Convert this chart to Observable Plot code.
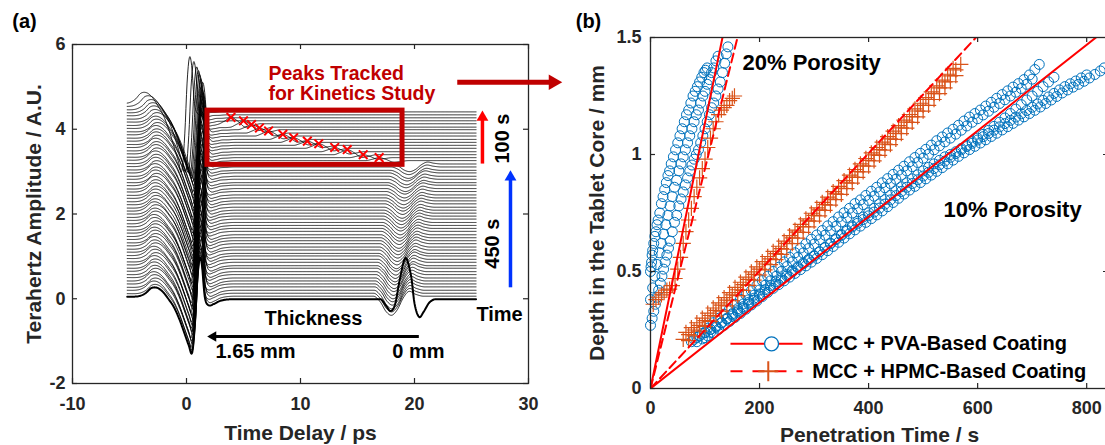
<!DOCTYPE html>
<html><head><meta charset="utf-8">
<script src="https://cdn.jsdelivr.net/npm/d3@7"></script>
<script src="https://cdn.jsdelivr.net/npm/@observablehq/plot@0.6"></script>
<style>
html,body{margin:0;padding:0;background:#fff;overflow:hidden;}
#wrap{position:relative;width:1105px;height:445px;overflow:hidden;background:#fff;}
#pa{position:absolute;left:0;top:0;width:600px;height:445px;}
#pb{position:absolute;left:560px;top:0;width:560px;height:445px;}
svg{max-width:none !important;}
</style></head>
<body><div id="wrap"><div id="pa"></div><div id="pb"></div></div>
<script>
// ================= Panel (a) data =================
const xTicksA = [-10, 0, 10, 20, 30];
const yTicksA = [-2, 0, 2, 4, 6];
const traceStart = -5.2, traceEnd = 25.4;
// baseline of each THz trace, bottom (t = 0) to top (latest)
const traceBaseline = [0.05,0.12,0.20,0.27,0.35,0.42,0.50,0.57,0.65,0.72,0.80,0.87,0.95,1.02,1.10,1.17,1.25,1.32,1.40,1.47,
  1.55,1.62,1.70,1.77,1.85,1.92,2.00,2.07,2.14,2.22,2.29,2.37,2.44,2.52,2.59,2.67,2.74,2.82,2.89,2.97,
  3.04,3.12,3.19,3.27,3.34,3.42,3.49,3.57,3.64,3.72,3.79,3.87,3.94,4.02,4.09,4.17,4.24,4.32,4.39,4.46,4.54,4.61];
// level of each trace after the main pulse, relative to its baseline
const tailLevel = [-0.06,-0.06,-0.07,-0.07,-0.07,-0.07,-0.08,-0.08,-0.08,-0.08, -0.08,-0.09,-0.09,-0.09,-0.09,-0.10,-0.10,-0.10,-0.10,-0.10,
  -0.11,-0.11,-0.11,-0.11,-0.12,-0.12,-0.12,-0.12,-0.12,-0.13, -0.13,-0.13,-0.13,-0.14,-0.14,-0.14,-0.14,-0.14,-0.15,-0.15,
  -0.15,-0.15,-0.16,-0.16,-0.16,-0.16,-0.16,-0.17,-0.17,-0.17, -0.17,-0.18,-0.18,-0.18,-0.18,-0.18,-0.19,-0.19,-0.19,-0.19,-0.20,-0.20];
// main (front-surface) pulse shape
const pulseT = [-5.2,-4.2,-3.6,-3.1,-2.6,-2.1,-1.6,-1.1,-0.6,-0.2,0.2,0.5,0.75,0.95,1.15,1.35,1.6,1.9,2.4,2.9,3.5,4.2];
const pulseV = [0,0.01,0.08,0.20,0.21,0.12,-0.05,-0.25,-0.55,-0.85,-1.15,-1.32,-0.6,0.4,0.9,0.75,0.0,-0.2,-0.18,-0.12,-0.09,-0.08];
const rampT = [1.6, 3.6], rampV = [0, 1];
const pulseShift = [0.0,0.05,-0.04,0.08,0.02,-0.06,0.1,0.04,-0.02,0.07, 0.0,0.12,0.05,-0.05,0.09,0.03,-0.03,0.11,0.06,0.0,
  0.08,0.14,0.02,-0.04,0.1,0.05,0.13,0.0,0.07,0.15, 0.04,0.1,0.16,0.06,0.12,0.02,0.18,0.09,0.14,0.05,
  0.2,0.11,0.16,0.08,0.22,0.13,0.18,0.1,0.24,0.15, 0.2,0.12,0.26,0.18,0.1,0.22,0.05,-0.05,-0.15,-0.3,-0.55,-0.9];
const pulseGain = [1,1,1,1,1,1,1,1,1,1, 1,1,1,1,1,1,1,1,1,1, 1,1,1,1,1,1,1,1,1,1, 1,1,1,1,1,1,1,1,1,1,
  1,1,1,1,1,1,1,1,1,1, 1,1,1,1,1,1.02,1.04,1.06,1.08,1.1,1.15,1.2];
// back-surface echo of the first (bold) trace
const bottomEchoT = [17.0,17.5,17.9,18.3,18.7,19.2,19.7,20.0,20.4,20.8,21.3,21.9];
const bottomEchoV = [0,-0.15,-0.28,-0.12,0.45,0.97,0.55,-0.1,-0.42,-0.3,-0.08,0];
// dip echo of traces 1..44
const dipEchoT = [-1.6,-1.0,-0.5,0,0.5,1.0,1.5,2.1,2.8];
const dipEchoV = [0,-0.3,-0.8,-1.0,-0.7,-0.1,0.25,0.1,0];
const dipEchoPos = [18.0,18.02,18.06,18.1,18.12,18.16,18.2,18.22,18.26,18.3,18.33,18.36,18.4,18.43,18.46,18.5,18.53,18.56,18.6,18.63,
  18.66,18.7,18.73,18.76,18.8,18.83,18.86,18.9,18.93,18.96,19.0,19.03,19.06,19.1,19.13,19.17,19.2,19.25,19.3,19.35,19.4,19.5,19.55,19.6];
const dipEchoAmp = [0.45,0.44,0.44,0.43,0.42,0.42,0.41,0.40,0.40,0.39,0.38,0.38,0.37,0.36,0.36,0.35,0.34,0.34,0.33,0.32,
  0.32,0.31,0.30,0.30,0.29,0.28,0.28,0.27,0.26,0.26,0.25,0.24,0.24,0.23,0.22,0.22,0.21,0.21,0.20,0.20,0.19,0.19,0.18,0.18];
// tracked peaks (red crosses), lowest tracked trace first
const peakEchoT = [-1.2,-0.6,0,0.6,1.2,1.8,2.6];
const peakEchoV = [0,0.45,1,0.4,-0.5,-0.35,0];
const peakDelay = [16.9,15.5,14.1,13.0,11.6,10.6,9.4,8.45,7.2,6.4,5.7,5.0,3.9];
const peakAmp   = [3.33,3.40,3.52,3.57,3.66,3.72,3.80,3.88,3.96,4.03,4.11,4.20,4.28];

// ================= Panel (b) data =================
const xTicksB = [0, 200, 400, 600, 800];
const yTicksB = [0, 0.5, 1, 1.5];
const fitSlopePVA20 = 0.01136, fitSlopeHPMC20 = 0.0094, fitSlopePVA10 = 0.001836, fitSlopeHPMC10 = 0.002513;

const pva20aTime  = [0,1,2,3,4,6,8,10,12,14,17,20,23,26,29,32,35,38,42,46,50,54,58,62,66,70,74,78,82,86,90,94,98,101,104];
const pva20aDepth = [0.50,0.52,0.54,0.57,0.59,0.62,0.65,0.67,0.70,0.72,0.75,0.79,0.82,0.85,0.88,0.91,0.93,0.96,0.99,1.02,1.05,1.08,1.11,1.14,1.17,1.19,1.22,1.25,1.27,1.29,1.31,1.33,1.35,1.36,1.37];
const pva20bTime  = [0,3,6,9,12,15,18,21,24,27,30,33,36,40,44,48,52,56,60,64,68,72,76,80,84,88,92,96,100,104,108,112,116,120,124,128,132,136,139,142];
const pva20bDepth = [0.27,0.30,0.33,0.36,0.39,0.42,0.45,0.48,0.51,0.54,0.57,0.60,0.63,0.67,0.71,0.74,0.78,0.81,0.84,0.87,0.90,0.93,0.955,0.98,1.00,1.02,1.05,1.08,1.11,1.14,1.17,1.20,1.22,1.25,1.28,1.31,1.35,1.39,1.43,1.46];
const pva20cTime  = [0,4,8,12,16,20,24,28,32,36,40,44,48,52,56,60,64,68,72,76,80,84,88,92,96,100,104,108,112,116,120,124];
const pva20cDepth = [0.38,0.43,0.48,0.53,0.58,0.62,0.66,0.70,0.74,0.78,0.82,0.86,0.89,0.93,0.96,0.99,1.02,1.05,1.08,1.11,1.14,1.17,1.19,1.22,1.25,1.27,1.30,1.32,1.35,1.37,1.40,1.42];
const hpmc20Time  = [5,10,15,20,25,30,35,40,45,50,55,60,65,70,75,80,85,90,95,100,105,110,115,120,125,130,135,140,145,150,154];
const hpmc20Depth = [0.36,0.38,0.39,0.40,0.41,0.42,0.425,0.44,0.47,0.51,0.56,0.62,0.67,0.72,0.77,0.82,0.86,0.90,0.94,0.98,1.03,1.07,1.11,1.14,1.17,1.19,1.20,1.21,1.23,1.24,1.25];

const pva10aTime  = [75,85,95,105,115,125,135,145,155,165,175,185,195,205,215,225,235,245,255,265,275,285,295,305,315,325,335,345,355,365,375,385,395,405,415,425,435,445,455,465,475,485,495,505,515,525,535,545,555,565,575,585,595,605,615,625,635,645,655,665,675,685,695,705,713];
const pva10aDepth = [0.200,0.218,0.236,0.258,0.281,0.300,0.318,0.340,0.360,0.381,0.400,0.418,0.440,0.461,0.480,0.500,0.518,0.541,0.561,0.580,0.600,0.618,0.638,0.656,0.675,0.695,0.713,0.733,0.751,0.770,0.790,0.806,0.825,0.843,0.860,0.879,0.897,0.915,0.933,0.950,0.969,0.987,1.005,1.022,1.040,1.059,1.075,1.092,1.108,1.125,1.143,1.160,1.175,1.190,1.207,1.223,1.240,1.256,1.272,1.288,1.303,1.320,1.340,1.363,1.385];
const pva10dTime  = [100,110,120,130,140,150,160,170,180,190,200,210,220,230,240,250,260,270,280,290,300,310,320,330,340,350,360,370,380,390,400,410,420,430,440,450,460,470,480,490,500,510,520,530,540,550,560,570,580,590,600,610,620,630,640,650,660,670,680,690,700];
const pva10dDepth = [0.217,0.240,0.261,0.279,0.299,0.320,0.341,0.361,0.379,0.399,0.421,0.441,0.460,0.479,0.500,0.521,0.541,0.560,0.579,0.598,0.617,0.636,0.655,0.674,0.693,0.712,0.731,0.750,0.768,0.786,0.804,0.822,0.840,0.858,0.876,0.894,0.912,0.930,0.948,0.966,0.984,1.001,1.020,1.037,1.054,1.070,1.087,1.104,1.122,1.138,1.153,1.169,1.185,1.202,1.218,1.234,1.250,1.266,1.282,1.300,1.322];
const pva10bTime  = [80,90,100,110,120,130,140,150,160,170,180,190,200,210,220,230,240,250,260,270,280,290,300,310,320,330,340,350,360,370,380,390,400,410,420,430,440,450,460,470,480,490,500,510,520,530,540,550,560,570,580,590,600,610,620,630,640,650,660,670,680,690,700,710,720,730,740];
const pva10bDepth = [0.210,0.224,0.238,0.253,0.267,0.281,0.296,0.310,0.327,0.344,0.361,0.378,0.395,0.413,0.430,0.447,0.464,0.481,0.498,0.515,0.532,0.549,0.565,0.584,0.603,0.621,0.640,0.658,0.677,0.695,0.714,0.733,0.751,0.770,0.789,0.807,0.826,0.845,0.862,0.879,0.896,0.913,0.930,0.945,0.960,0.975,0.990,1.000,1.012,1.026,1.040,1.055,1.070,1.086,1.103,1.120,1.138,1.156,1.175,1.194,1.213,1.233,1.250,1.270,1.290,1.310,1.330];
const pva10cTime  = [85,95,105,115,125,135,145,155,165,175,185,195,205,215,225,235,245,255,265,275,285,295,305,315,325,335,345,355,365,375,385,395,405,415,425,435,445,455,465,475,485,495,505,515,525,535,545,555,565,575,585,595,605,615,625,635,645,655,665,675,685,695,705,715,725,735,745,755,765,775,785,795,805,815,825,832];
const pva10cDepth = [0.200,0.212,0.225,0.238,0.253,0.270,0.287,0.304,0.321,0.339,0.357,0.374,0.393,0.411,0.428,0.444,0.460,0.476,0.492,0.508,0.524,0.540,0.556,0.572,0.589,0.607,0.625,0.643,0.661,0.678,0.694,0.710,0.726,0.742,0.759,0.777,0.795,0.813,0.831,0.848,0.864,0.880,0.896,0.912,0.928,0.944,0.960,0.976,0.992,1.007,1.021,1.035,1.049,1.063,1.077,1.091,1.105,1.119,1.133,1.147,1.161,1.175,1.189,1.203,1.218,1.233,1.248,1.263,1.276,1.288,1.300,1.313,1.327,1.342,1.357,1.370];
const pva10eTime  = [90,100,110,120,130,140,150,160,170,180,190,200,210,220,230,240,250,260,270,280,290,300,310,320,330,340,350,360,370,380,390,400,410,420,430,440,450,460,470,480,490,500,510,520,530,540,550,560,570,580,590,600,610,620,630,640,650,660,670,680,690,700,710,720,730,740,750,760,770,780,790,800];
const pva10eDepth = [0.226,0.239,0.252,0.266,0.282,0.299,0.316,0.333,0.350,0.368,0.386,0.404,0.422,0.440,0.456,0.472,0.488,0.504,0.520,0.536,0.552,0.568,0.584,0.601,0.618,0.636,0.654,0.672,0.690,0.706,0.722,0.738,0.754,0.771,0.788,0.806,0.824,0.842,0.860,0.876,0.892,0.908,0.924,0.940,0.956,0.972,0.988,1.004,1.020,1.034,1.048,1.062,1.076,1.090,1.104,1.118,1.132,1.146,1.160,1.174,1.188,1.202,1.216,1.231,1.246,1.261,1.276,1.290,1.302,1.314,1.327,1.340];
const hpmc10aTime  = [60,70,80,90,100,110,120,130,140,150,160,170,180,190,200,210,220,230,240,250,260,270,280,290,300,310,320,330,340,350,360,370,380,390,400,410,420,430,440,450,460,470,480,490,500,510,520,530,540,550,560,569];
const hpmc10aDepth = [0.210,0.230,0.250,0.270,0.290,0.312,0.334,0.356,0.378,0.400,0.422,0.444,0.466,0.488,0.510,0.532,0.554,0.576,0.598,0.620,0.644,0.668,0.692,0.716,0.740,0.763,0.786,0.809,0.832,0.855,0.879,0.903,0.927,0.951,0.975,0.998,1.021,1.044,1.067,1.090,1.114,1.138,1.162,1.186,1.210,1.235,1.260,1.285,1.310,1.336,1.362,1.385];
const hpmc10bTime  = [65,75,85,95,105,115,125,135,145,155,165,175,185,195,205,215,225,235,245,255,265,275,285,295,305,315,325,335,345,355,365,375,385,395,405,415,425,435,445,455,465,475,485,495,505,515,525,535,545,555];
const hpmc10bDepth = [0.240,0.260,0.281,0.301,0.322,0.344,0.366,0.388,0.410,0.432,0.454,0.476,0.498,0.520,0.542,0.564,0.586,0.608,0.630,0.653,0.677,0.701,0.725,0.749,0.772,0.795,0.818,0.841,0.864,0.888,0.912,0.936,0.960,0.983,1.007,1.030,1.053,1.076,1.100,1.123,1.147,1.171,1.195,1.219,1.243,1.268,1.293,1.318,1.343,1.368];
const hpmc10cTime  = [70,80,90,100,110,120,130,140,150,160,170,180,190,200,210,220,230,240,250,260,270,280,290,300,310,320,330,340,350,360,370,380,390,400,410,420,430,440,450,460,470,480,490,500,510,520,530,540,550,560];
const hpmc10cDepth = [0.205,0.225,0.245,0.265,0.287,0.309,0.331,0.353,0.375,0.397,0.419,0.441,0.463,0.485,0.507,0.529,0.551,0.573,0.595,0.619,0.643,0.667,0.691,0.715,0.738,0.761,0.784,0.807,0.830,0.854,0.878,0.902,0.926,0.950,0.973,0.996,1.019,1.042,1.065,1.089,1.113,1.137,1.161,1.185,1.210,1.235,1.260,1.285,1.311,1.337];

// ================= helpers =================
const DARKRED = "#c00000", RED = "#ff0000", BLUE = "#0072BD", ORANGE = "#D95319", AX = "#262626";
const FONT = "'Liberation Sans', Arial, Helvetica, sans-serif";
function smoothInterp(T, V, x, left, right) {
  const n = T.length;
  if (x <= T[0]) return left;
  if (x >= T[n - 1]) return right;
  let k = 0; while (x > T[k + 1]) k++;
  const h = T[k + 1] - T[k], s = (x - T[k]) / h;
  const m = j => (j <= 0 || j >= n - 1) ? 0 : (V[j + 1] - V[j - 1]) / (T[j + 1] - T[j - 1]);
  const s2 = s * s, s3 = s2 * s;
  return (2*s3 - 3*s2 + 1) * V[k] + (s3 - 2*s2 + s) * h * m(k) + (-2*s3 + 3*s2) * V[k + 1] + (s3 - s2) * h * m(k + 1);
}
const zip = (t, d, run) => t.map((v, i) => ({t: v, d: d[i], run}));

// ================= build traces =================
const delayGrid = d3.range(traceStart, traceEnd + 1e-9, 0.05);
const tail = pulseV[pulseV.length - 1];
const traceRows = [];
traceBaseline.forEach((b, i) => {
  for (const t of delayGrid) {
    const x = t - pulseShift[i];
    let a = b + pulseGain[i] * smoothInterp(pulseT, pulseV, x, 0, tail)
              + (tailLevel[i] - pulseGain[i] * tail) * smoothInterp(rampT, rampV, x, 0, 1);
    if (i === 0) a += smoothInterp(bottomEchoT, bottomEchoV, t, 0, 0);
    else if (i <= dipEchoPos.length) a += dipEchoAmp[i - 1] * smoothInterp(dipEchoT, dipEchoV, t - dipEchoPos[i - 1], 0, 0);
    else {
      const k = i - dipEchoPos.length - 1;
      if (k < peakDelay.length) {
        const amp = peakAmp[k] - (b + tailLevel[i]);
        a += amp * smoothInterp(peakEchoT, peakEchoV, t - peakDelay[k], 0, 0);
      }
    }
    traceRows.push({trace: i, t, a});
  }
});

// ================= Panel (a) =================
const A_W = 600, A_H = 445, A_ML = 72, A_MR = 72, A_MT = 44, A_MB = 62;
const aFW = A_W - A_ML - A_MR, aFH = A_H - A_MT - A_MB;
const txt = (s, o) => Plot.text([s], {text: d => d, fontWeight: "bold", textAnchor: "middle", lineAnchor: "middle", ...o});
const plotA = Plot.plot({
  width: A_W, height: A_H, marginLeft: A_ML, marginRight: A_MR, marginTop: A_MT, marginBottom: A_MB,
  x: {domain: [-10, 30]}, y: {domain: [-2, 6]},
  style: {fontFamily: FONT, fontSize: "18px", fontWeight: "bold", color: AX, background: "transparent", overflow: "visible"},
  marks: [
    Plot.line(traceRows.filter(r => r.trace > 0), {x: "t", y: "a", z: "trace", stroke: "black", strokeWidth: 0.85}),
    Plot.line(traceRows.filter(r => r.trace === 0), {x: "t", y: "a", stroke: "black", strokeWidth: 2}),
    Plot.rect([0], {x1: 1.84, x2: 18.95, y1: 3.16, y2: 4.44, fill: "none", stroke: DARKRED, strokeWidth: 5}),
    Plot.dot(peakDelay, {x: d => d, y: (d, i) => peakAmp[i], symbol: "times", r: 4, stroke: RED, strokeWidth: 2}),
    // frame and inward ticks
    Plot.frame({stroke: AX, strokeWidth: 1.3}),
    Plot.ruleX(xTicksA, {x: d => d, insetTop: aFH - 5, stroke: AX, strokeWidth: 1.2}),
    Plot.ruleX(xTicksA, {x: d => d, insetBottom: aFH - 5, stroke: AX, strokeWidth: 1.2}),
    Plot.ruleY(yTicksA, {y: d => d, insetRight: aFW - 5, stroke: AX, strokeWidth: 1.2}),
    Plot.ruleY(yTicksA, {y: d => d, insetLeft: aFW - 5, stroke: AX, strokeWidth: 1.2}),
    Plot.axisX({ticks: xTicksA, tickSize: 0, tickPadding: 14, tickFormat: d => String(d), label: null, fontSize: 18}),
    Plot.axisY({ticks: yTicksA, tickSize: 0, tickPadding: 7, tickFormat: d => String(d), label: null, fontSize: 18}),
    txt("Time Delay / ps", {frameAnchor: "bottom", dy: 50, fontSize: 21}),
    txt("Terahertz Amplitude / A.U.", {frameAnchor: "left", dx: -38, rotate: -90, fontSize: 21}),
    txt("(a)", {frameAnchor: "top-left", dx: -48, dy: -23, fontSize: 20, fill: "black"}),
    // annotations
    txt("Peaks Tracked", {x: 7.19, y: 5.30, textAnchor: "start", fontSize: 19.5, fill: DARKRED}),
    txt("for Kinetics Study", {x: 7.19, y: 4.83, textAnchor: "start", fontSize: 19.5, fill: DARKRED}),
    Plot.link([0], {x1: 23.75, y1: 5.11, x2: 32.2, y2: 5.11, stroke: DARKRED, strokeWidth: 5}),
    Plot.dot([0], {x: 32.96, y: 5.11, symbol: "triangle", r: 5.8, fill: DARKRED, stroke: "none", rotate: 90, dx: -9}),
    Plot.link([0], {x1: 25.96, y1: 3.19, x2: 25.96, y2: 4.28, stroke: RED, strokeWidth: 3.5}),
    Plot.dot([0], {x: 25.96, y: 4.44, symbol: "triangle", r: 4.4, fill: RED, stroke: "none", dy: 6.8}),
    txt("100 s", {x: 27.72, y: 3.78, rotate: -90, fontSize: 20, fill: "black"}),
    Plot.link([0], {x1: 28.42, y1: 0.27, x2: 28.42, y2: 2.87, stroke: "#0033ff", strokeWidth: 3.5}),
    Plot.dot([0], {x: 28.42, y: 3.03, symbol: "triangle", r: 4.4, fill: "#0033ff", stroke: "none", dy: 6.8}),
    txt("450 s", {x: 26.82, y: 1.30, rotate: -90, fontSize: 20, fill: "black"}),
    txt("Time", {x: 27.46, y: -0.37, fontSize: 20, fill: "black"}),
    txt("Thickness", {x: 11.14, y: -0.47, fontSize: 20, fill: "black"}),
    Plot.link([0], {x1: 20.38, y1: -0.89, x2: 2.3, y2: -0.89, stroke: "black", strokeWidth: 3}),
    Plot.dot([0], {x: 1.82, y: -0.89, symbol: "triangle", r: 3.9, fill: "black", stroke: "none", rotate: -90, dx: 6}),
    txt("1.65 mm", {x: 2.54, y: -1.24, textAnchor: "start", fontSize: 20, fill: "black"}),
    txt("0 mm", {x: 20.35, y: -1.25, fontSize: 20, fill: "black"})
  ]
});
document.getElementById("pa").append(plotA);

// ================= Panel (b) =================
const B_W = 560, B_H = 445, B_ML = 90, B_MR = 12, B_MT = 37, B_MB = 57;
const bFW = B_W - B_ML - B_MR, bFH = B_H - B_MT - B_MB;
const pvaRows = [...zip(pva20aTime, pva20aDepth, "a20"), ...zip(pva20bTime, pva20bDepth, "b20"), ...zip(pva20cTime, pva20cDepth, "c20"),
  ...zip(pva10aTime, pva10aDepth, "a10"), ...zip(pva10dTime, pva10dDepth, "d10"), ...zip(pva10bTime, pva10bDepth, "b10"),
  ...zip(pva10cTime, pva10cDepth, "c10"), ...zip(pva10eTime, pva10eDepth, "e10")];
const hpmcRows = [...zip(hpmc20Time, hpmc20Depth, "h20"), ...zip(hpmc10aTime, hpmc10aDepth, "h10a"),
  ...zip(hpmc10bTime, hpmc10bDepth, "h10b"), ...zip(hpmc10cTime, hpmc10cDepth, "h10c")];
const fitLine = k => [{t: 0, d: 0}, {t: 1.6 / k, d: 1.6}];
const plotB = Plot.plot({
  width: B_W, height: B_H, marginLeft: B_ML, marginRight: B_MR, marginTop: B_MT, marginBottom: B_MB,
  x: {domain: [0, 840]}, y: {domain: [0, 1.5]},
  style: {fontFamily: FONT, fontSize: "18px", fontWeight: "bold", color: AX, background: "transparent", overflow: "visible"},
  marks: [
    Plot.dot(pvaRows, {x: "t", y: "d", r: 5, stroke: BLUE, strokeWidth: 1, fill: "none"}),
    Plot.dot(hpmcRows, {x: "t", y: "d", symbol: "plus", r: 5, stroke: ORANGE, strokeWidth: 1.2}),
    Plot.line(fitLine(fitSlopePVA20), {x: "t", y: "d", stroke: RED, strokeWidth: 2, clip: true}),
    Plot.line(fitLine(fitSlopePVA10), {x: "t", y: "d", stroke: RED, strokeWidth: 2, clip: true}),
    Plot.line(fitLine(fitSlopeHPMC20), {x: "t", y: "d", stroke: RED, strokeWidth: 2, strokeDasharray: "9,5", clip: true}),
    Plot.line(fitLine(fitSlopeHPMC10), {x: "t", y: "d", stroke: RED, strokeWidth: 2, strokeDasharray: "9,5", clip: true}),
    // legend
    Plot.link([0], {x1: 146.7, x2: 278.8, y1: 0.191, y2: 0.191, stroke: RED, strokeWidth: 2}),
    Plot.dot([0], {x: 222, y: 0.191, r: 7, stroke: BLUE, strokeWidth: 1.3, fill: "white"}),
    Plot.link([0], {x1: 146.7, x2: 278.8, y1: 0.074, y2: 0.074, stroke: RED, strokeWidth: 2, strokeDasharray: "12,10"}),
    Plot.dot([0], {x: 216, y: 0.074, symbol: "plus", r: 6.5, stroke: ORANGE, strokeWidth: 2}),
    txt("MCC + PVA-Based Coating", {x: 296.6, y: 0.191, textAnchor: "start", fontSize: 20, fill: "black"}),
    txt("MCC + HPMC-Based Coating", {x: 296.6, y: 0.074, textAnchor: "start", fontSize: 20, fill: "black"}),
    txt("20% Porosity", {x: 168.7, y: 1.391, textAnchor: "start", fontSize: 22, fill: "black"}),
    txt("10% Porosity", {x: 537.4, y: 0.765, textAnchor: "start", fontSize: 22, fill: "black"}),
    // frame, ticks, axes
    Plot.frame({stroke: AX, strokeWidth: 1.3}),
    Plot.ruleX(xTicksB, {x: d => d, insetTop: bFH - 5, stroke: AX, strokeWidth: 1.2}),
    Plot.ruleX(xTicksB, {x: d => d, insetBottom: bFH - 5, stroke: AX, strokeWidth: 1.2}),
    Plot.ruleY(yTicksB, {y: d => d, insetRight: bFW - 5, stroke: AX, strokeWidth: 1.2}),
    Plot.ruleY(yTicksB, {y: d => d, insetLeft: bFW - 5, stroke: AX, strokeWidth: 1.2}),
    Plot.axisX({ticks: xTicksB, tickSize: 0, tickPadding: 13, tickFormat: d => String(d), label: null, fontSize: 18}),
    Plot.axisY({ticks: yTicksB, tickSize: 0, tickPadding: 9, tickFormat: d => String(d), label: null, fontSize: 18}),
    txt("Penetration Time / s", {frameAnchor: "bottom", dy: 47, fontSize: 21}),
    txt("Depth in the Tablet Core / mm", {frameAnchor: "left", dx: -53, rotate: -90, fontSize: 21}),
    txt("(b)", {frameAnchor: "top-left", dx: -62, dy: -16, fontSize: 20, fill: "black"})
  ]
});
document.getElementById("pb").append(plotB);
</script>
</body></html>
